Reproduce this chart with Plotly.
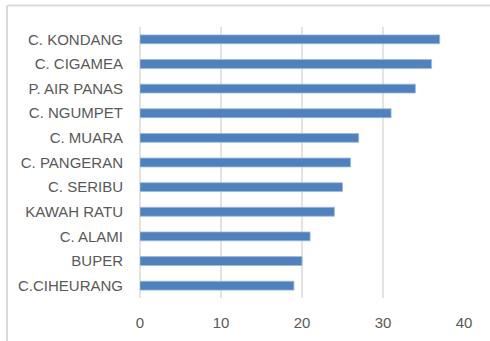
import plotly.graph_objects as go

categories = ["C. KONDANG", "C. CIGAMEA", "P. AIR PANAS", "C. NGUMPET", "C. MUARA",
              "C. PANGERAN", "C. SERIBU", "KAWAH RATU", "C. ALAMI", "BUPER", "C.CIHEURANG"]
values = [37, 36, 34, 31, 27, 26, 25, 24, 21, 20, 19]
x_ticks = [0, 10, 20, 30, 40]

fig = go.Figure(go.Bar(
    x=values, y=categories, orientation="h",
    width=0.36,
    marker=dict(color="#4f81bd", line=dict(color="#9db8df", width=0.8)),
))

font = dict(family="Liberation Sans, Arial, sans-serif", size=15, color="#595959")

fig.update_layout(
    width=490, height=341,
    margin=dict(l=140, r=26, t=27, b=43, autoexpand=False),
    paper_bgcolor="white", plot_bgcolor="white",
    showlegend=False,
    font=font,
    xaxis=dict(range=[0, 40], tickvals=x_ticks, showgrid=True, gridcolor="#e3e3e3",
               gridwidth=1.5, zeroline=True, zerolinecolor="#e3e3e3", zerolinewidth=1.5,
               showline=False, ticks="", ticklabelstandoff=14, tickfont=font,
               automargin=False, fixedrange=True),
    yaxis=dict(categoryorder="array", categoryarray=categories[::-1], showgrid=False,
               zeroline=False, showline=False, ticks="", ticklabelstandoff=16,
               tickfont=font, automargin=False, fixedrange=True),
    shapes=[
        dict(type="line", xref="paper", yref="paper", x0=-0.41, x1=1.3, y0=1.0793, y1=1.0793,
             line=dict(color="#d9d9d9", width=2)),
        dict(type="line", xref="paper", yref="paper", x0=-0.4105, x1=-0.4105, y0=1.0793, y1=-0.3,
             line=dict(color="#d9d9d9", width=2)),
    ],
)

fig.write_html("out.html")
